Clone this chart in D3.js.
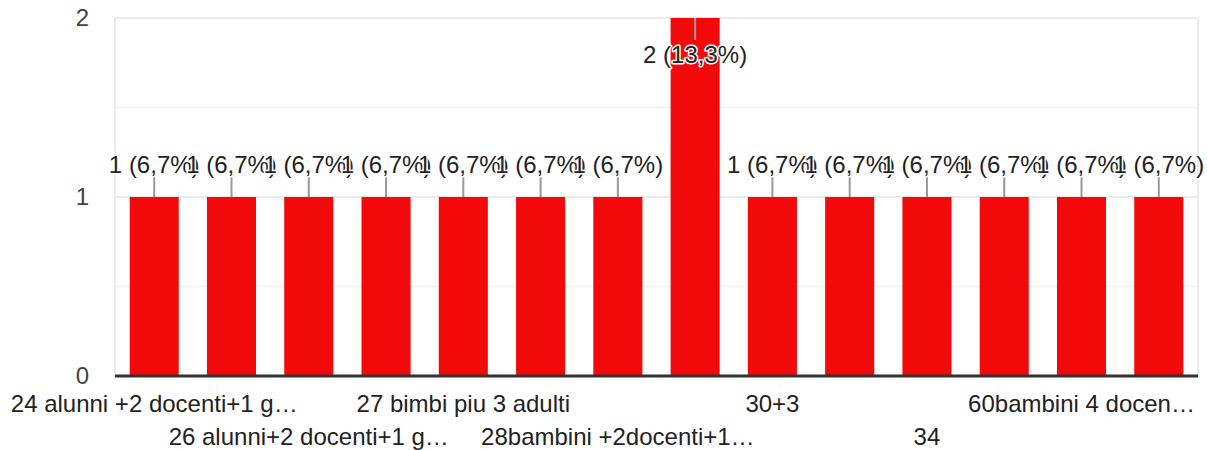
<!DOCTYPE html>
<html>
<head>
<meta charset="utf-8">
<script src="https://cdn.jsdelivr.net/npm/d3@7"></script>
<style>
  html, body { margin: 0; padding: 0; background: #fff; }
  svg { display: block; font-family: Arial, "Liberation Sans", Helvetica, sans-serif; }
</style>
</head>
<body>
<svg id="chart" width="1207" height="450"></svg>
<script>
// ---- data ----
const categories = [
  "24 alunni +2 docenti+1 genitore",
  "25 alunni + 2 docenti",
  "26 alunni+2 docenti+1 genitore",
  "26 bambini 2 docenti",
  "27 bimbi piu 3 adulti",
  "27+2",
  "28bambini +2docenti+1 collaboratore",
  "30",
  "30+3",
  "32 bambini",
  "34",
  "40 bambini",
  "60bambini 4 docenti",
  "80"
];
const values = [1, 1, 1, 1, 1, 1, 1, 2, 1, 1, 1, 1, 1, 1];
const tickLabels = [
  "24 alunni +2 docenti+1 g…", "",
  "26 alunni+2 docenti+1 g…", "",
  "27 bimbi piu 3 adulti", "",
  "28bambini +2docenti+1…", "",
  "30+3", "",
  "34", "",
  "60bambini 4 docen…", ""
];
const yTicks = [0, 1, 2];

// ---- layout ----
const svg = d3.select("#chart");
const pLeft = 115, pRight = 1198, pTop = 18, pBottom = 376;
const total = d3.sum(values);
const FONT = 'Arial, "Liberation Sans", sans-serif';

const x = d3.scaleBand()
  .domain(d3.range(categories.length))
  .range([pLeft, pRight])
  .paddingInner(0.365)
  .paddingOuter(0.19);
const y = d3.scaleLinear().domain([0, 2]).range([pBottom, pTop]);

// minor gridlines
svg.append("g").selectAll("line")
  .data([0.5, 1.5])
  .join("line")
  .attr("x1", pLeft).attr("x2", pRight)
  .attr("y1", d => y(d)).attr("y2", d => y(d))
  .attr("stroke", "#f4f4f4").attr("stroke-width", 2);

// major gridlines
svg.append("g").selectAll("line")
  .data(yTicks.filter(d => d > 0))
  .join("line")
  .attr("x1", pLeft).attr("x2", pRight)
  .attr("y1", d => y(d)).attr("y2", d => y(d))
  .attr("stroke", "#ebebeb").attr("stroke-width", 2);

// side borders
svg.append("g").selectAll("line")
  .data([pLeft, pRight])
  .join("line")
  .attr("x1", d => d).attr("x2", d => d)
  .attr("y1", pTop - 1).attr("y2", pBottom)
  .attr("stroke", "#ebebeb").attr("stroke-width", 2);

// y axis labels
const yAxis = d3.axisLeft(y).tickValues(yTicks).tickSize(0).tickPadding(26).tickFormat(d3.format("d"));
const gy = svg.append("g").attr("transform", `translate(${pLeft},0)`).call(yAxis);
gy.select(".domain").remove();
gy.selectAll("text")
  .attr("font-size", 24)
  .attr("fill", "#444")
  .attr("font-family", FONT);

// bars
svg.append("g").selectAll("rect")
  .data(values)
  .join("rect")
  .attr("x", (d, i) => x(i))
  .attr("width", x.bandwidth())
  .attr("y", d => y(d))
  .attr("height", d => y(0) - y(d))
  .attr("fill", "#f20a0a");

// baseline
svg.append("line")
  .attr("x1", pLeft).attr("x2", pRight)
  .attr("y1", y(0)).attr("y2", y(0))
  .attr("stroke", "#333").attr("stroke-width", 3);

// x labels (alternating rows)
const xAxis = d3.axisBottom(x).tickSize(0).tickFormat(i => tickLabels[i]);
const gx = svg.append("g").attr("transform", `translate(0,${pBottom})`).call(xAxis);
gx.select(".domain").remove();
gx.selectAll("text")
  .attr("font-size", 24)
  .attr("fill", "#222")
  .attr("dy", null)
  .attr("y", (d, i) => (Math.floor(i / 2) % 2 === 0) ? 36 : 69)
  .attr("font-family", FONT);

// value annotations
const fmtPct = v => d3.format(".1f")(v).replace(".", ",");
const ann = svg.append("g");
values.forEach((v, i) => {
  const cx = x(i) + x.bandwidth() / 2;
  const yt = y(v);
  const inside = yt - pTop < 40;
  const g = ann.append("g");
  if (inside) {
    g.append("line")
      .attr("x1", cx).attr("x2", cx)
      .attr("y1", yt).attr("y2", yt + 22)
      .attr("stroke", "#999").attr("stroke-width", 2);
  } else {
    g.append("line")
      .attr("x1", cx).attr("x2", cx)
      .attr("y1", yt - 20).attr("y2", yt)
      .attr("stroke", "#999").attr("stroke-width", 2);
  }
  g.append("text")
    .attr("x", cx)
    .attr("y", inside ? yt + 45 : yt - 24)
    .attr("text-anchor", "middle")
    .attr("font-size", 24)
    .attr("font-family", FONT)
    .attr("fill", "#222")
    .attr("stroke", "#fff")
    .attr("stroke-width", 3)
    .attr("paint-order", "stroke")
    .attr("stroke-linejoin", "round")
    .text(`${v} (${fmtPct(v / total * 100)}%)`);
});
</script>
</body>
</html>
